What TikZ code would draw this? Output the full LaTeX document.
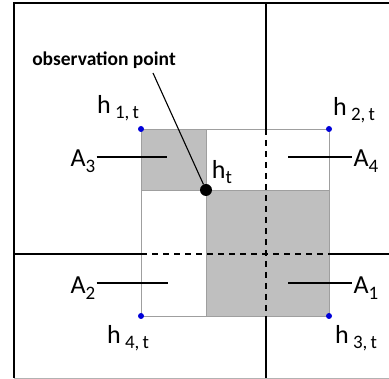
\documentclass[tikz,border=0pt]{standalone}
\usepackage{fontspec}
\setmainfont{Carlito}
\usetikzlibrary{positioning,calc}
\tikzset{
  gridln/.style={line width=1.4pt},
  dashln/.style={line width=1.4pt, dash pattern=on 6pt off 5pt},
  cell/.style={draw=gray!75, line width=0.8pt},
  shaded/.style={fill=black!25, draw=gray!75, line width=0.8pt},
  corner/.style={circle, fill=blue!85!black, inner sep=0pt, minimum size=6pt},
  obs/.style={circle, fill=black, inner sep=0pt, minimum size=12pt},
  lbl/.style={font=\fontsize{26}{26}\selectfont, inner sep=1pt},
  lead/.style={line width=1.1pt},
}
\newcommand{\lowsub}[1]{\raisebox{-0.45ex}{\fontsize{19}{19}\selectfont #1}}

\begin{document}
\begin{tikzpicture}[x=1pt,y=-1pt]
  \useasboundingbox (0,0) rectangle (389,379);
  % outer frame
  \draw[line width=1.2pt] (392,3) -- (14,3) -- (14,378);
  \draw[gray!60, line width=0.8pt] (14,378) -- (392,378);
  % inner square and shaded parts
  \coordinate (h1) at (141,129);
  \coordinate (h2) at (329,129);
  \coordinate (h3) at (329,316);
  \coordinate (h4) at (141,316);
  \coordinate (ht) at (206,190);
  \draw[cell] (h1) rectangle (h3);
  \draw[shaded] (h1) rectangle (ht);
  \draw[shaded] (ht) rectangle (h3);
  % centre lines
  \draw[gridln] (266,3) -- (266,129);
  \draw[dashln] (266,129) -- (266,316);
  \draw[gridln] (266,316) -- (266,378);
  \draw[gridln] (14,254) -- (141,254);
  \draw[dashln] (141,254) -- (329,254);
  \draw[gridln] (329,254) -- (392,254);
  % corner points
  \node[corner] (c1) at (h1) {};
  \node[corner] (c2) at (h2) {};
  \node[corner] (c3) at (h3) {};
  \node[corner] (c4) at (h4) {};
  \node[obs] (pt) at (ht) {};
  % corner labels
  \node[lbl] (l1) at (118,108) {h\,\lowsub{1,\,t}};
  \node[lbl] (l2) at (354,110) {h\,\lowsub{2,\,t}};
  \node[lbl] (l3) at (356,338) {h\,\lowsub{3,\,t}};
  \node[lbl] (l4) at (128,338) {h\,\lowsub{4,\,t}};
  \node[lbl] (lt) at (222,172) {h\lowsub{t}};
  % area labels
  \node[lbl] (a3) at (83,161) {A\lowsub{3}};
  \node[lbl] (a4) at (366,161) {A\lowsub{4}};
  \node[lbl] (a2) at (83,288) {A\lowsub{2}};
  \node[lbl] (a1) at (366,288) {A\lowsub{1}};
  \coordinate (p3) at (167,157);
  \coordinate (p4) at (288,157);
  \coordinate (p2) at (168,283);
  \coordinate (p1) at (288,283);
  \draw[lead] (a3.east |- p3) -- (p3);
  \draw[lead] (p4) -- (a4.west |- p4);
  \draw[lead] (a2.east |- p2) -- (p2);
  \draw[lead] (p1) -- (a1.west |- p1);
  % observation point
  \node[font=\bfseries\fontsize{19.5}{19.5}\selectfont, inner sep=1pt] (olbl) at (104,60) {observation point};
  \coordinate (o) at (153,73);
  \draw[lead] (o) -- (pt);
\end{tikzpicture}
\end{document}
